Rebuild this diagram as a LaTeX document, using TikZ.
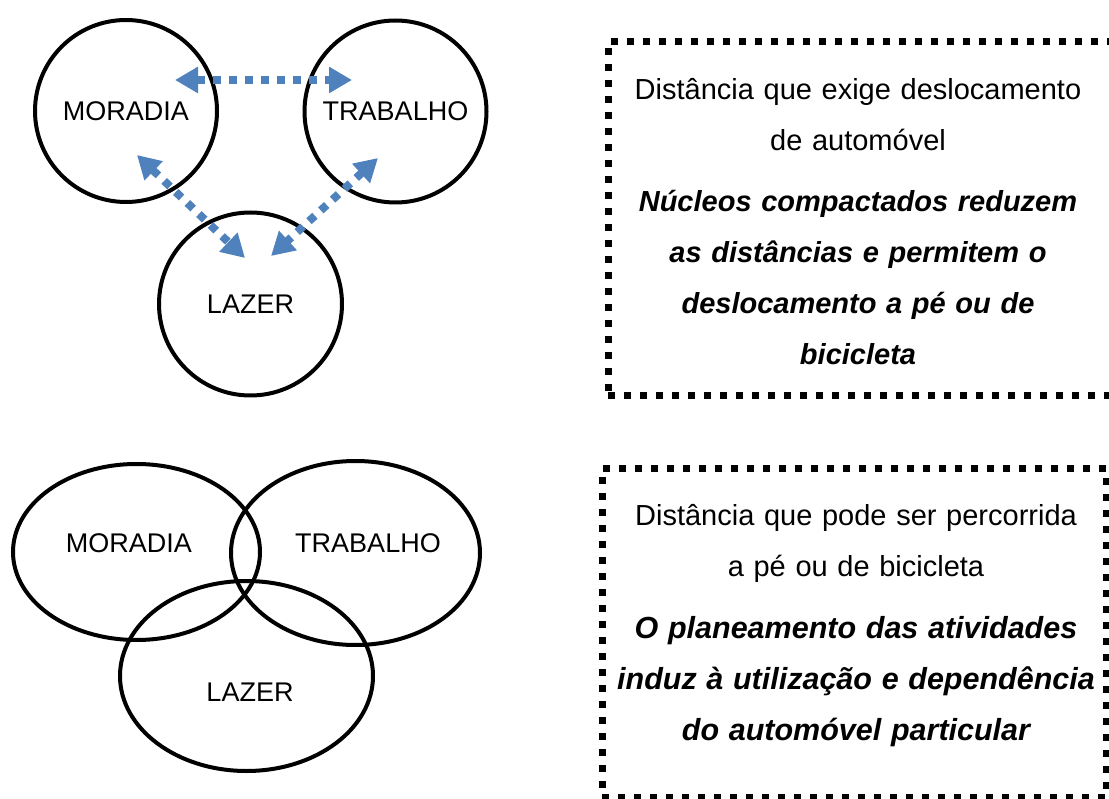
\documentclass[tikz,border=0pt]{standalone}
\usepackage{fontspec}
\setmainfont{Liberation Sans}
\usetikzlibrary{arrows.meta,shapes.geometric}
\definecolor{linkblue}{RGB}{79,129,189}

\begin{document}
\begin{tikzpicture}[x=1pt, y=-1pt, >={Triangle[length=23pt,width=25pt]}]
\def \lw {4pt}
  \tikzstyle{place} = [draw, black, circle, line width=\lw, minimum size=182pt, inner sep=0,
                       font=\fontsize{27}{32}\selectfont]
  \tikzstyle{zone} = [draw, black, ellipse, line width=\lw, inner sep=0]
  \tikzstyle{placename} = [inner sep=0, font=\fontsize{27}{32}\selectfont]
  \tikzstyle{link} = [linkblue, line width=8pt, dash pattern=on 8pt off 8pt, <->]
  \tikzstyle{notebox} = [draw, black, rectangle, line width=7pt, dash pattern=on 7pt off 9pt, inner sep=0]
  \tikzstyle{note} = [align=center, text width=500pt, inner sep=0, font=\fontsize{29}{51}\selectfont]

\useasboundingbox (0,0) rectangle (1109,799);
\clip (0,0) rectangle (1109,799);

%%%%%%%%%%%%%%%%%%%%%%%%%%%%%%%%%%%%%%%%%%%%%%%%%%%%%%%%%%%%%%%%%%%%%%%%%%%%%%%

\coordinate (home_pose) at (126, 111);
\coordinate (work_pose) at (395.5, 111.5);
\coordinate (leisure_pose) at (250.5, 304);

\coordinate (home2_pose) at (136.5, 552);
\coordinate (work2_pose) at (355.5, 553);
\coordinate (leisure2_pose) at (246.5, 676);

%%%%%%%%%%%%%%%%%%%%%%%%%%%%%%%%%%%%%%%%%%%%%%%%%%%%%%%%%%%%%%%%%%%%%%%%%%%%%%%

\node[place] (home) at (home_pose) {MORADIA};
\node[place] (work) at (work_pose) {TRABALHO};
\node[place, minimum size=183pt] (leisure) at (leisure_pose) {LAZER};

\node[zone, minimum width=247pt, minimum height=176pt] (home2) at (home2_pose) {};
\node[zone, minimum width=249pt, minimum height=184pt] (work2) at (work2_pose) {};
\node[zone, minimum width=253pt, minimum height=190pt] (leisure2) at (leisure2_pose) {};
\node[placename] (home2name) at (129, 543) {MORADIA};
\node[placename] (work2name) at (368, 543) {TRABALHO};
\node[placename] (leisure2name) at (250, 692) {LAZER};

\node[notebox, minimum width=540pt, minimum height=354pt] (far) at (878, 219) {};
\node[notebox, minimum width=504pt, minimum height=328pt] (near) at (854, 633) {};

\node[note] (farnote) at (858, 222) {Distância que exige deslocamento\\ de automóvel\\[10pt]
  \bfseries\itshape Núcleos compactados reduzem\\ as distâncias e permitem o\\ deslocamento a pé ou de\\ bicicleta};
\node[note] (nearnote) at (856, 626) {Distância que pode ser percorrida\\ a pé ou de bicicleta\\[11pt]
  \fontsize{30.5}{51}\selectfont\bfseries\itshape O planeamento das atividades\\ induz à utilização e dependência\\ do automóvel particular};

%%%%%%%%%%%%%%%%%%%%%%%%%%%%%%%%%%%%%%%%%%%%%%%%%%%%%%%%%%%%%%%%%%%%%%%%%%%%%%%

\coordinate (home_top) at (175, 80);
\coordinate (work_top) at (352, 80);
\coordinate (home_low) at (137, 155);
\coordinate (work_low) at (378, 158);
\coordinate (leisure_left) at (245, 258);
\coordinate (leisure_right) at (271, 256);

\draw[link] (home_top) -- (work_top);
\draw[link] (home_low) -- (leisure_left);
\draw[link] (work_low) -- (leisure_right);

\end{tikzpicture}
\end{document}
